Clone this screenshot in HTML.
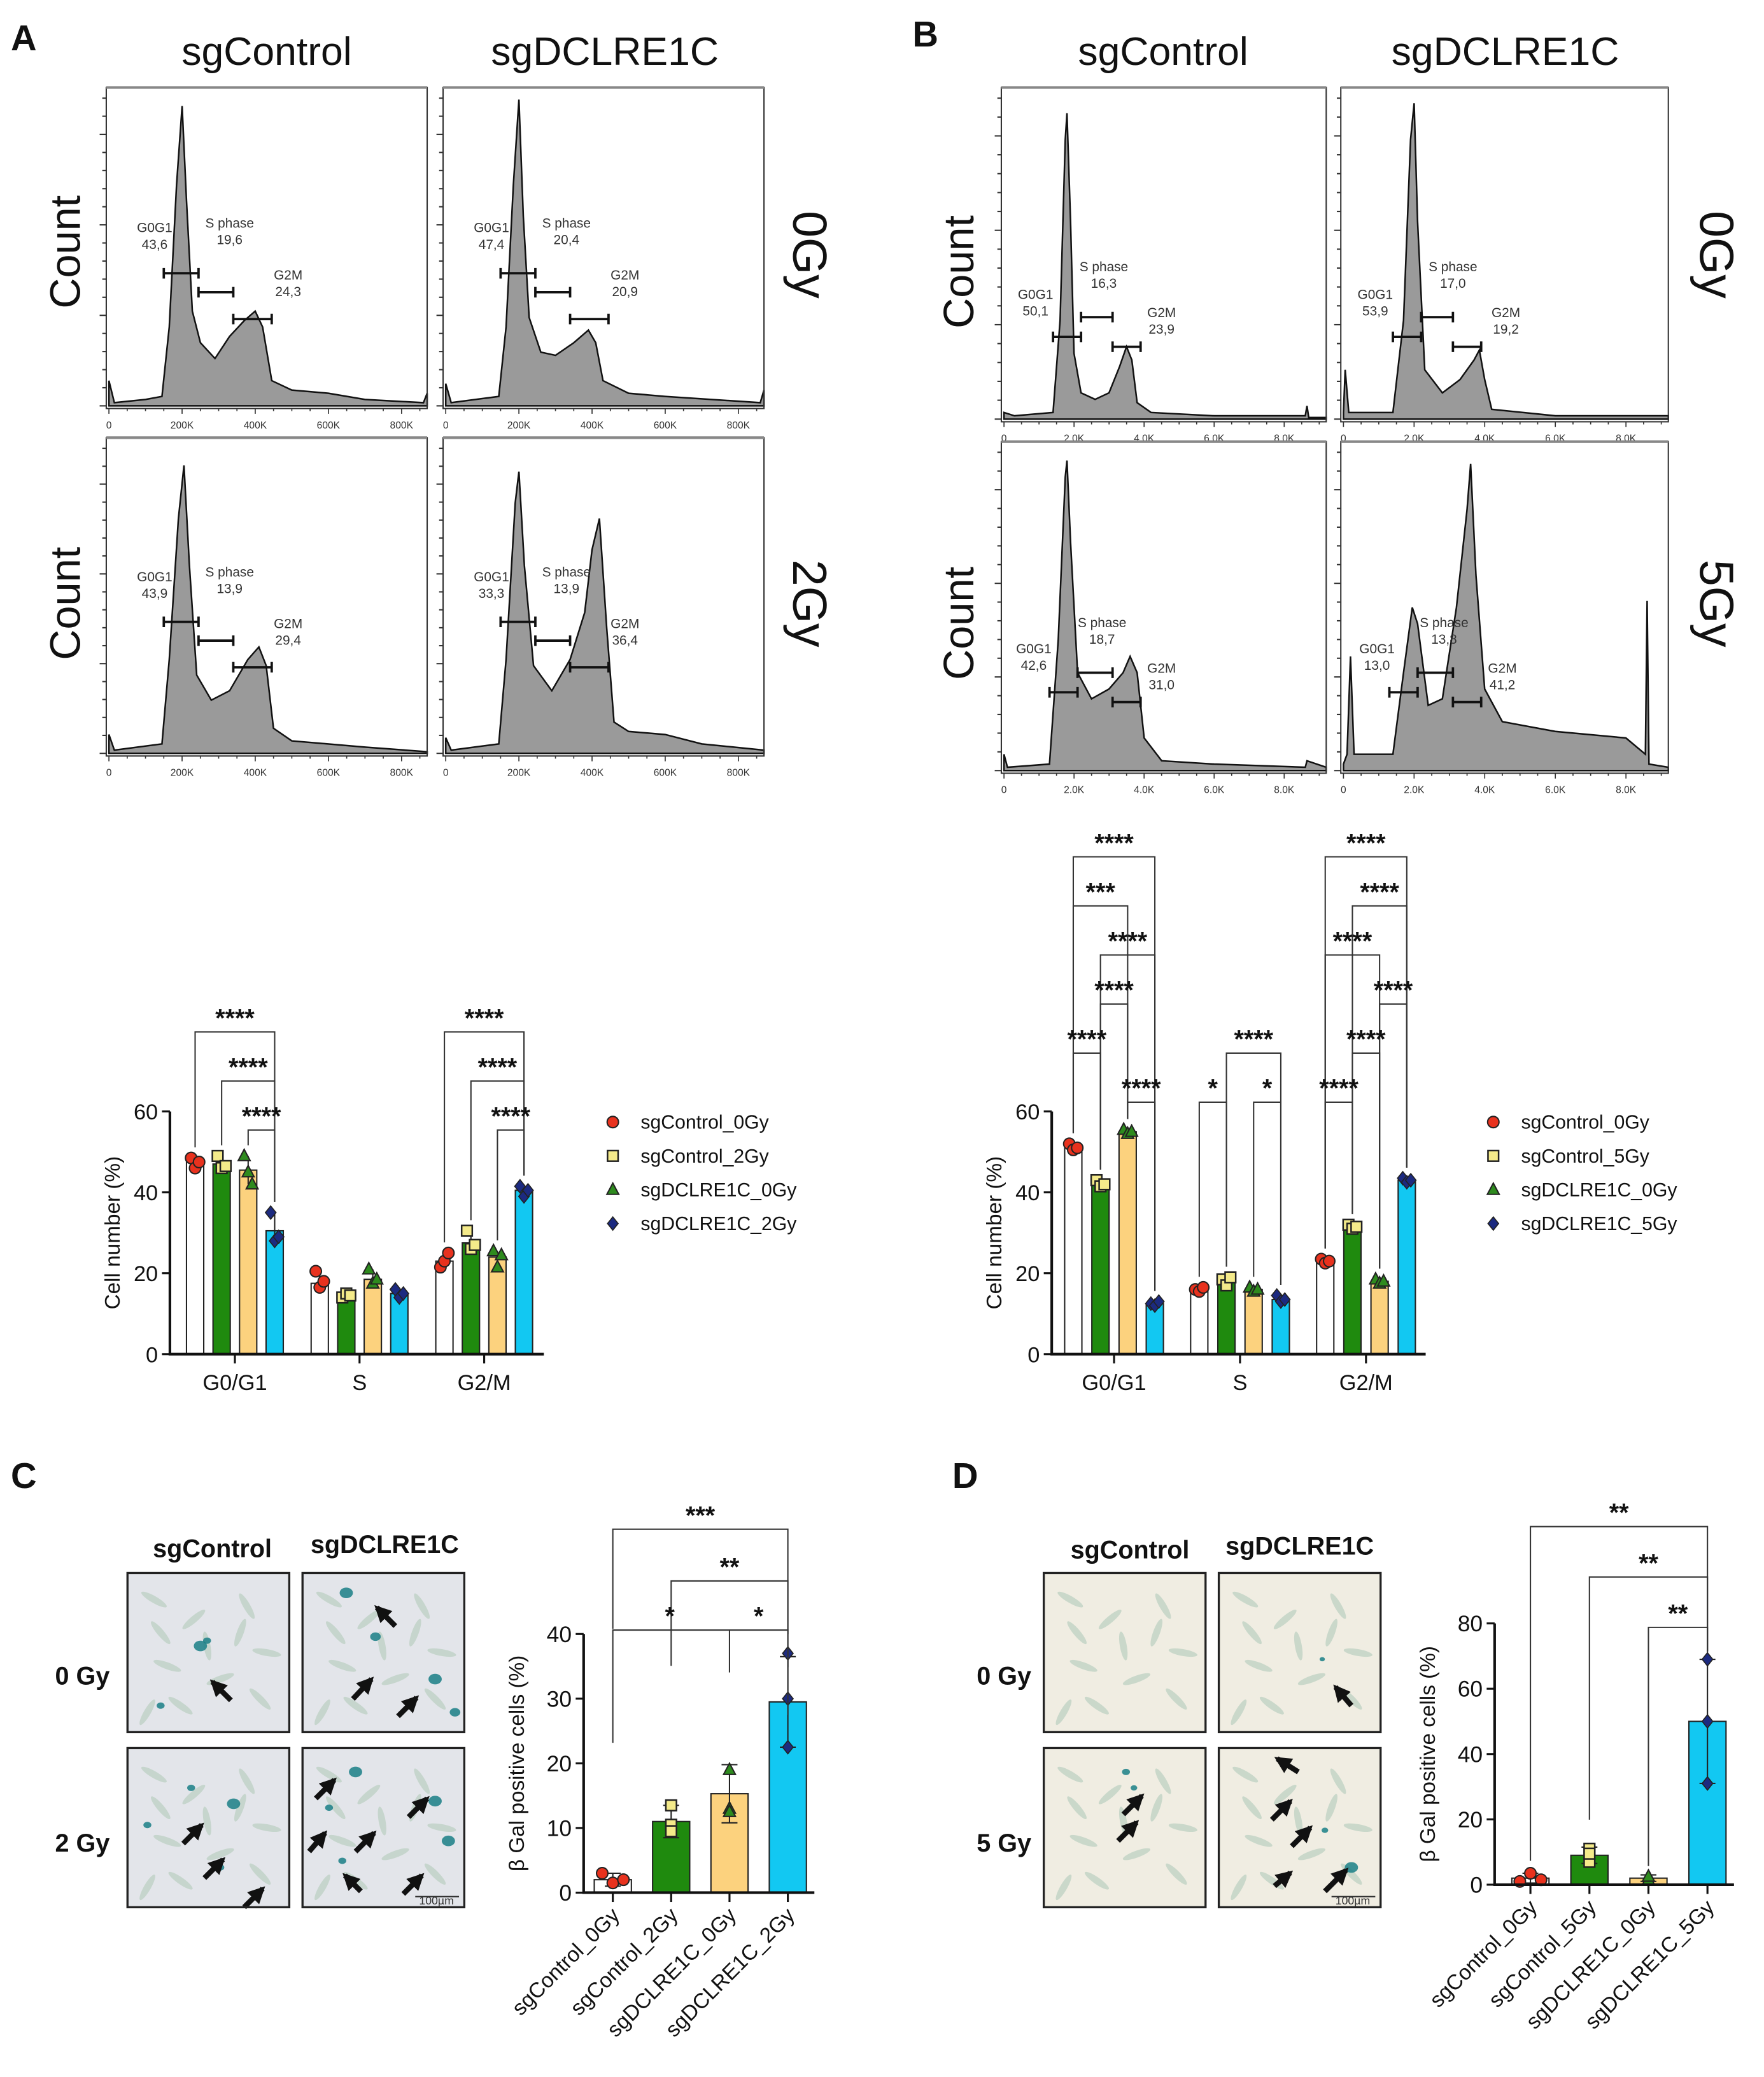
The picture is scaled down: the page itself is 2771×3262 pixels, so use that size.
<!DOCTYPE html>
<html><head><meta charset="utf-8"><style>
html,body{margin:0;padding:0;background:#fff}
svg{display:block}
text{font-family:"Liberation Sans",sans-serif}
</style></head><body>
<svg id="fig" xmlns="http://www.w3.org/2000/svg" width="2771" height="3262" viewBox="0 0 1330 1566">
<defs>
<marker id="ah" viewBox="0 0 10 10" refX="8" refY="5" markerWidth="3.2" markerHeight="3.2" orient="auto"><path d="M0,0L10,5L0,10z" fill="#111"/></marker>
</defs>
<rect width="1330" height="1566" fill="#fff"/>
</svg>
<script>
// ---------- DATA ----------
// Flow cytometry histograms (DNA content, relative count)
const histA_ctrl0 = [[0,0.08],[15,0.01],[100,0.02],[145,0.03],[165,0.25],[185,0.7],[200,0.95],[212,0.65],[228,0.3],[250,0.2],[290,0.15],[330,0.22],[370,0.27],[400,0.3],[420,0.25],[445,0.08],[500,0.05],[600,0.04],[700,0.02],[860,0.01],[870,0.04]];
const histA_dcl0 = [[0,0.07],[15,0.01],[145,0.03],[165,0.25],[185,0.7],[200,0.97],[212,0.6],[228,0.28],[260,0.17],[300,0.16],[350,0.2],[390,0.24],[410,0.2],[430,0.08],[500,0.04],[600,0.03],[860,0.01],[870,0.05]];
const histA_ctrl2 = [[0,0.06],[15,0.01],[145,0.03],[165,0.3],[190,0.75],[205,0.92],[220,0.6],[240,0.25],[280,0.17],[330,0.2],[380,0.3],[410,0.34],[430,0.28],[450,0.08],[500,0.04],[700,0.02],[870,0.005]];
const histA_dcl2 = [[0,0.05],[15,0.01],[145,0.03],[165,0.3],[190,0.8],[200,0.9],[215,0.6],[240,0.28],[290,0.2],[340,0.3],[380,0.45],[400,0.65],[420,0.75],[440,0.4],[460,0.1],[500,0.07],[600,0.06],[700,0.03],[870,0.01]];
const histB_ctrl0 = [[0,0.02],[0.3,0.01],[1.4,0.02],[1.6,0.3],[1.75,0.85],[1.8,0.93],[1.9,0.6],[2.0,0.2],[2.2,0.08],[2.6,0.06],[3.0,0.08],[3.3,0.16],[3.5,0.22],[3.65,0.18],[3.8,0.05],[4.2,0.02],[6,0.01],[8.6,0.01],[8.65,0.04],[8.7,0.005],[9.2,0.005]];
const histB_dcl0 = [[0,0.02],[0.05,0.15],[0.15,0.02],[1.4,0.02],[1.7,0.3],[1.9,0.85],[2.0,0.96],[2.1,0.6],[2.3,0.15],[2.8,0.08],[3.3,0.12],[3.7,0.18],[3.85,0.21],[4.0,0.12],[4.2,0.03],[6,0.01],[9.2,0.01]];
const histB_ctrl5 = [[0,0.05],[0.1,0.01],[1.3,0.02],[1.55,0.4],[1.75,0.9],[1.8,0.95],[1.9,0.7],[2.1,0.3],[2.5,0.22],[3.0,0.25],[3.4,0.3],[3.6,0.35],[3.8,0.3],[4.0,0.1],[4.5,0.03],[6,0.02],[8.6,0.01],[8.65,0.03],[9.2,0.01]];
const histB_dcl5 = [[0,0.02],[0.1,0.05],[0.2,0.35],[0.3,0.05],[1.4,0.05],[1.7,0.3],[1.95,0.5],[2.1,0.45],[2.4,0.2],[2.8,0.22],[3.2,0.5],[3.5,0.8],[3.6,0.94],[3.75,0.6],[4.0,0.25],[4.5,0.15],[6,0.12],[8,0.1],[8.55,0.05],[8.6,0.52],[8.65,0.02],[9.2,0.01]];

// Panel A bar chart (cell cycle %)
const phases = ["G0/G1","S","G2/M"];
const seriesA = ["sgControl_0Gy","sgControl_2Gy","sgDCLRE1C_0Gy","sgDCLRE1C_2Gy"];
const meansA_ctrl0 = [47.5,17.5,23];
const meansA_ctrl2 = [47,14.5,27.5];
const meansA_dcl0 = [45.5,18.5,24];
const meansA_dcl2 = [30.5,15,40.5];
const ptsA_ctrl0 = [[48.5,46,47.5],[20.5,16.5,18],[21.5,23,25]];
const ptsA_ctrl2 = [[49,46,46.5],[14,15,14.5],[30.5,26,27]];
const ptsA_dcl0 = [[49,45,42],[21,17.5,18.5],[25.5,21.5,24.5]];
const ptsA_dcl2 = [[35,28,29],[16,14,15],[41.5,39,40.5]];
const yTicksBar = [0,20,40,60];

// Panel B bar chart
const seriesB = ["sgControl_0Gy","sgControl_5Gy","sgDCLRE1C_0Gy","sgDCLRE1C_5Gy"];
const meansB_ctrl0 = [51,16,23];
const meansB_ctrl5 = [42,18,31.5];
const meansB_dcl0 = [55,16,18];
const meansB_dcl5 = [12.5,13.5,43];
const ptsB_ctrl0 = [[52,50.5,51],[16,15.5,16.5],[23.5,22.5,23]];
const ptsB_ctrl5 = [[43,41.5,42],[18.5,17,19],[32,31,31.5]];
const ptsB_dcl0 = [[55.5,54.5,55],[16.5,15.5,16],[18.5,17.5,18]];
const ptsB_dcl5 = [[12.5,12,13],[14.5,13,13.5],[43.5,42.5,43]];

// Panel C (beta-gal %)
const groupsC = ["sgControl_0Gy","sgControl_2Gy","sgDCLRE1C_0Gy","sgDCLRE1C_2Gy"];
const meansC = [2,11,15.3,29.5];
const sdC = [1,2.5,4.5,7];
const ptsC = [[3,1.5,2],[13.5,10.5,9.5],[19,13,12.5],[37,30,22.5]];
const yTicksC = [0,10,20,30,40];

// Panel D
const groupsD = ["sgControl_0Gy","sgControl_5Gy","sgDCLRE1C_0Gy","sgDCLRE1C_5Gy"];
const meansD = [2,9,2,50];
const sdD = [1.5,2.5,1,19];
const ptsD = [[1,3.5,1.5],[11,7,9.5],[2.5,1.5,2.5],[69,50,31]];
const yTicksD = [0,20,40,60,80];

// ---------- HELPERS ----------
const NS='http://www.w3.org/2000/svg';
const svg=document.getElementById('fig');
function mk(tag,a,p){const e=document.createElementNS(NS,tag);for(const k in a)e.setAttribute(k,a[k]);(p||svg).appendChild(e);return e;}
function tx(x,y,s,size,extra,p){const a=Object.assign({x:x,y:y,'font-size':size,fill:'#111'},extra||{});const e=mk('text',a,p);e.textContent=s;return e;}

const BARCOL=['#ffffff','#1f8a0e','#fcd27e','#12c8f2'];
const PTCOL=['#e8321e','#f4ea8a','#2e8b1e','#1c2a80'];
function marker(kind,x,y,p){
  let e;
  if(kind===0) e=mk('circle',{cx:x,cy:y,r:4.3,fill:PTCOL[0],stroke:'#222','stroke-width':1},p);
  else if(kind===1) e=mk('rect',{x:x-4,y:y-4,width:8,height:8,fill:PTCOL[1],stroke:'#222','stroke-width':1.2},p);
  else if(kind===2) e=mk('path',{d:`M${x},${y-5}L${x+4.5},${y+3.5}L${x-4.5},${y+3.5}Z`,fill:PTCOL[2],stroke:'#222','stroke-width':1},p);
  else e=mk('path',{d:`M${x},${y-5}L${x+4},${y}L${x},${y+5}L${x-4},${y}Z`,fill:PTCOL[3],stroke:'#222','stroke-width':0.8},p);
  return e;
}

// ---------- HISTOGRAMS ----------
function histogram(name,box,xmax,tickVals,tickLabs,data,gates){
  const g=mk('g',{});
  
  
  const x0=box[0],y0=box[1],x1=box[2],y1=box[3];
  const X=v=>x0+2+v/xmax*(x1-x0-2);
  const Y=f=>y1-2-f*(y1-y0-4);
  let d=`M${X(data[0][0])},${Y(0)}`;
  data.forEach(p=>{d+=`L${X(p[0]).toFixed(1)},${Y(p[1]).toFixed(1)}`;});
  d+=`L${X(data[data.length-1][0])},${Y(0)}Z`;
  const area=mk('path',{d:d,fill:'#9a9a9a',stroke:'#111','stroke-width':1.2},g);
  
  
  const frame=mk('rect',{x:x0,y:y0,width:x1-x0,height:y1-y0,fill:'none',stroke:'#333','stroke-width':1},g);
  
  
  mk('line',{x1:x0,y1:y0,x2:x1,y2:y0,stroke:'#888','stroke-width':2},g);
  // y minor ticks
  for(let i=0;i<=17;i++){const yy=y1-2-i*(y1-y0-10)/17;mk('line',{x1:x0-(i%5===0?5:3),y1:yy,x2:x0,y2:yy,stroke:'#333','stroke-width':1},g);}
  // x ticks
  for(let i=0;i<=Math.floor(xmax/(tickVals[1]/4));i++){const v=i*tickVals[1]/4;const xx=X(v);mk('line',{x1:xx,y1:y1,x2:xx,y2:y1+(i%4===0?4:2),stroke:'#333','stroke-width':0.8},g);}
  tickVals.forEach((v,i)=>{const t=tx(X(v),y1+15,tickLabs[i],7.5,{'text-anchor':'middle',fill:'#333'},g);
    
    });
  gates.forEach(gt=>{
    const yy=Y(gt[2]);
    const ln=mk('path',{d:`M${X(gt[0])},${yy-4}V${yy+4}M${X(gt[0])},${yy}H${X(gt[1])}M${X(gt[1])},${yy-4}V${yy+4}`,stroke:'#111','stroke-width':1.8,fill:'none'},g);
    
    
    const l1=tx(X(gt[5]),Y(gt[6]),gt[3],10,{'text-anchor':'middle',fill:'#333'},g);
    
    
    const l2=tx(X(gt[5]),Y(gt[6])+12.5,gt[4],10,{'text-anchor':'middle',fill:'#333'},g);
    
    
  });
}
const aT=[0,200,400,600,800], aL=['0','200K','400K','600K','800K'];
const bT=[0,2,4,6,8], bL=['0','2.0K','4.0K','6.0K','8.0K'];
// gate: [from,to,yFrac,label,value,labelX,labelYFrac]
histogram('hist-a-sgcontrol-0gy',[80,66,322,308],870,aT,aL,histA_ctrl0,[[150,245,0.42,'G0G1','43,6',125,0.55],[245,340,0.36,'S phase','19,6',330,0.565],[340,445,0.275,'G2M','24,3',490,0.4]]);
histogram('hist-a-sgdclre1c-0gy',[334,66,576,308],870,aT,aL,histA_dcl0,[[150,245,0.42,'G0G1','47,4',125,0.55],[245,340,0.36,'S phase','20,4',330,0.565],[340,445,0.275,'G2M','20,9',490,0.4]]);
histogram('hist-a-sgcontrol-2gy',[80,330,322,570],870,aT,aL,histA_ctrl2,[[150,245,0.42,'G0G1','43,9',125,0.55],[245,340,0.36,'S phase','13,9',330,0.565],[340,445,0.275,'G2M','29,4',490,0.4]]);
histogram('hist-a-sgdclre1c-2gy',[334,330,576,570],870,aT,aL,histA_dcl2,[[150,245,0.42,'G0G1','33,3',125,0.55],[245,340,0.36,'S phase','13,9',330,0.565],[340,445,0.275,'G2M','36,4',490,0.4]]);
histogram('hist-b-sgcontrol-0gy',[755,66,1000,318],9.2,bT,bL,histB_ctrl0,[[1.4,2.2,0.25,'G0G1','50,1',0.9,0.365],[2.2,3.1,0.31,'S phase','16,3',2.85,0.45],[3.1,3.9,0.22,'G2M','23,9',4.5,0.31]]);
histogram('hist-b-sgdclre1c-0gy',[1011,66,1258,318],9.2,bT,bL,histB_dcl0,[[1.4,2.2,0.25,'G0G1','53,9',0.9,0.365],[2.2,3.1,0.31,'S phase','17,0',3.1,0.45],[3.1,3.9,0.22,'G2M','19,2',4.6,0.31]]);
histogram('hist-b-sgcontrol-5gy',[755,333,1000,583],9.2,bT,bL,histB_ctrl5,[[1.3,2.1,0.24,'G0G1','42,6',0.85,0.36],[2.1,3.1,0.3,'S phase','18,7',2.8,0.44],[3.1,3.9,0.21,'G2M','31,0',4.5,0.3]]);
histogram('hist-b-sgdclre1c-5gy',[1011,333,1258,583],9.2,bT,bL,histB_dcl5,[[1.3,2.1,0.24,'G0G1','13,0',0.95,0.36],[2.1,3.1,0.3,'S phase','13,8',2.85,0.44],[3.1,3.9,0.21,'G2M','41,2',4.5,0.3]]);

// headings
function lab(x,y,s,size,name,extra){const t=tx(x,y,s,size,extra);return t;}
lab(8,38,'A',27,'panel-a-label',{'font-weight':'bold'});
lab(688,35,'B',27,'panel-b-label',{'font-weight':'bold'});
lab(8,1122,'C',27,'panel-c-label',{'font-weight':'bold'});
lab(718,1122,'D',27,'panel-d-label',{'font-weight':'bold'});
lab(201,49,'sgControl',30,'col-title-sgcontrol-a',{'text-anchor':'middle'});
lab(456,49,'sgDCLRE1C',30,'col-title-sgdclre1c-a',{'text-anchor':'middle'});
lab(877,49,'sgControl',30,'col-title-sgcontrol-b',{'text-anchor':'middle'});
lab(1135,49,'sgDCLRE1C',30,'col-title-sgdclre1c-b',{'text-anchor':'middle'});
[[60,190],[60,455],[734,205],[734,470]].forEach(p=>{lab(0,0,'Count',32,'y-axis-title-count',{'text-anchor':'middle',transform:`translate(${p[0]},${p[1]}) rotate(-90)`});});
[[598,192,'0Gy'],[598,455,'2Gy'],[1282,192,'0Gy'],[1282,455,'5Gy']].forEach(p=>{lab(0,0,p[2],36,'dose-label',{'text-anchor':'middle',transform:`translate(${p[0]},${p[1]}) rotate(90)`});});

// ---------- GROUPED BAR CHARTS ----------
function barChart(name,ax,means,pts,series,legendX){
  const g=mk('g',{});
  
  
  const Y=v=>ax.y0-v*(ax.y0-ax.y60)/60;
  const bx=(c,s)=>ax.c0+c*ax.cstep+(s-1.5)*ax.bstep;
  for(let c=0;c<3;c++){
    for(let s=0;s<4;s++){
      const xc=bx(c,s), v=means[s][c];
      const r=mk('rect',{x:xc-6.5,y:Y(v),width:13,height:Y(0)-Y(v),fill:BARCOL[s],stroke:'#222','stroke-width':1},g);
      
      
      const ps=pts[s][c];
      const mn=Math.min(...ps), mx=Math.max(...ps);
      mk('line',{x1:xc,y1:Y(mn),x2:xc,y2:Y(mx),stroke:'#222','stroke-width':1},g);
      ps.forEach((pv,i)=>{const m=marker(s,xc+(i-1)*3,Y(pv),g);
        
        });
    }
    const tk=mk('line',{x1:ax.c0+c*ax.cstep,y1:Y(0),x2:ax.c0+c*ax.cstep,y2:Y(0)+7,stroke:'#111','stroke-width':1.5},g);
    const t=tx(ax.c0+c*ax.cstep,Y(0)+27,phases[c],16.5,{'text-anchor':'middle'},g);
    
    
  }
  const axl=mk('path',{d:`M${ax.yx},${Y(60)}V${Y(0)}H${ax.xend}`,stroke:'#111','stroke-width':2,fill:'none'},g);
  
  
  yTicksBar.forEach(v=>{mk('line',{x1:ax.yx-6,y1:Y(v),x2:ax.yx,y2:Y(v),stroke:'#111','stroke-width':1.5},g);
    const t=tx(ax.yx-9,Y(v)+6,String(v),16.5,{'text-anchor':'end'},g);
    
    });
  const yt=tx(0,0,'Cell number (%)',16,{'text-anchor':'middle',transform:`translate(${ax.yx-38},${Y(30)}) rotate(-90)`},g);
  
  
  series.forEach((s,i)=>{const yy=850+i*25.5;
    const m=marker(i,legendX,yy-4,g);
    
    
    const t=tx(legendX+21,yy+1,s,14.5,{},g);
    
    });
  return {Y:Y,bx:bx,g:g};
}
function bracket(g,xa,xb,yTop,yA,yB,stars,size,tx0){
  const p=mk('path',{d:`M${xa},${yA}V${yTop}H${xb}V${yB}`,stroke:'#333','stroke-width':1,fill:'none'},g);
  
  
  const t=tx(tx0!==undefined?tx0:(xa+xb)/2,yTop-4,stars,size||19,{'text-anchor':'middle','font-weight':'bold'},g);
  
  
}
const A=barChart('bar-chart-a',{y0:1021,y60:838,yx:128,xend:410,c0:177,cstep:94,bstep:20},[meansA_ctrl0,meansA_ctrl2,meansA_dcl0,meansA_dcl2],[ptsA_ctrl0,ptsA_ctrl2,ptsA_dcl0,ptsA_dcl2],seriesA,462);
const B=barChart('bar-chart-b',{y0:1021,y60:838,yx:793,xend:1075,c0:840,cstep:95,bstep:20.5},[meansB_ctrl0,meansB_ctrl5,meansB_dcl0,meansB_dcl5],[ptsB_ctrl0,ptsB_ctrl5,ptsB_dcl0,ptsB_dcl5],seriesB,1126);

// brackets A  [cat, s1, s2, level]
const sigA=[[0,0,3,0],[0,1,3,1],[0,2,3,2],[2,0,3,0],[2,1,3,1],[2,2,3,2]];
sigA.forEach(b=>{const yTop=778+b[3]*37;const xa=A.bx(b[0],b[1]),xb=A.bx(b[0],b[2]);
  bracket(A.g,xa,xb,yTop,A.Y(Math.max(...[ptsA_ctrl0,ptsA_ctrl2,ptsA_dcl0,ptsA_dcl2][b[1]][b[0]]))-8,A.Y(Math.max(...[ptsA_ctrl0,ptsA_ctrl2,ptsA_dcl0,ptsA_dcl2][b[2]][b[0]]))-8,'****');});
// brackets B
const sigB=[[0,0,3,0,'****'],[0,0,2,1,'***'],[0,1,3,2,'****'],[0,1,2,3,'****'],[0,0,1,4,'****'],[0,2,3,5,'****'],
 [1,1,3,4,'****'],[1,0,1,5,'*'],[1,2,3,5,'*'],
 [2,0,3,0,'****'],[2,1,3,1,'****'],[2,0,2,2,'****'],[2,2,3,3,'****'],[2,1,2,4,'****'],[2,0,1,5,'****']];
const ptsBall=[ptsB_ctrl0,ptsB_ctrl5,ptsB_dcl0,ptsB_dcl5];
sigB.forEach(b=>{const yTop=630+b[3]*37+16;const xa=B.bx(b[0],b[1]),xb=B.bx(b[0],b[2]);
  bracket(B.g,xa,xb,yTop,B.Y(Math.max(...ptsBall[b[1]][b[0]]))-8,B.Y(Math.max(...ptsBall[b[2]][b[0]]))-8,b[4]);});

// ---------- MICROGRAPHS ----------
function micrograph(name,x,y,bg,blobs,arrows,scale){
  const g=mk('g',{});
  
  
  mk('rect',{x:x,y:y,width:122,height:120,fill:bg},g);
  // faint cells
  const cells=[[20,20,30],[50,35,-40],[90,25,60],[30,70,20],[70,80,-20],[100,95,45],[15,105,-60],[60,55,80],[105,60,10],[40,100,35],[85,45,-70],[25,45,50]];
  cells.forEach(c=>mk('ellipse',{cx:x+c[0],cy:y+c[1],rx:11,ry:2.6,fill:'#b9cfc0',opacity:0.7,transform:`rotate(${c[2]} ${x+c[0]} ${y+c[1]})`},g));
  blobs.forEach(b=>mk('ellipse',{cx:x+b[0],cy:y+b[1],rx:b[2],ry:b[2]*0.8,fill:'#1a7f86',opacity:0.85},g));
  arrows.forEach(a=>mk('line',{x1:x+a[0],y1:y+a[1],x2:x+a[2],y2:y+a[3],stroke:'#111','stroke-width':4,'marker-end':'url(#ah)'},g));
  mk('rect',{x:x,y:y,width:122,height:120,fill:'none',stroke:'#222','stroke-width':1.6},g);
  if(scale){mk('line',{x1:x+85,y1:y+112,x2:x+118,y2:y+112,stroke:'#333','stroke-width':1},g);
    const t=tx(x+101,y+118,'100µm',8.5,{'text-anchor':'middle',fill:'#333'},g);
    
    }
}
micrograph('micrograph-c-sgcontrol-0gy',96,1186,'#e3e5ea',[[55,55,5],[60,51,3],[25,100,3]],[[78,96,64,82]],false);
micrograph('micrograph-c-sgdclre1c-0gy',228,1186,'#e3e5ea',[[33,15,5],[100,80,5],[115,105,4],[55,48,4]],[[70,40,56,26],[38,95,52,80],[72,108,86,94]],false);
micrograph('micrograph-c-sgcontrol-2gy',96,1318,'#e3e5ea',[[48,30,3],[80,42,5],[15,58,3],[70,90,3]],[[42,72,56,58],[58,98,72,84],[88,120,102,106]],false);
micrograph('micrograph-c-sgdclre1c-2gy',228,1318,'#e3e5ea',[[40,18,5],[100,40,5],[110,70,5],[30,85,3],[20,45,3]],[[5,78,17,64],[44,108,32,96],[40,78,54,64],[80,52,94,38],[76,110,90,96],[10,38,24,24]],true);
micrograph('micrograph-d-sgcontrol-0gy',787,1186,'#f0ede2',[],[],false);
micrograph('micrograph-d-sgdclre1c-0gy',919,1186,'#f0ede2',[[78,65,2]],[[100,100,88,86]],false);
micrograph('micrograph-d-sgcontrol-5gy',787,1318,'#f0ede2',[[62,18,3],[68,30,2.5]],[[60,50,74,36],[56,70,70,56]],false);
micrograph('micrograph-d-sgdclre1c-5gy',919,1318,'#f0ede2',[[100,90,5],[80,62,2.5]],[[60,18,44,8],[40,54,54,40],[55,74,69,60],[42,104,54,94],[80,108,96,92]],true);
lab(160,1174,'sgControl',19,'col-title-sgcontrol-c',{'text-anchor':'middle','font-weight':'bold'});
lab(290,1171,'sgDCLRE1C',19,'col-title-sgdclre1c-c',{'text-anchor':'middle','font-weight':'bold'});
lab(852,1175,'sgControl',19,'col-title-sgcontrol-d',{'text-anchor':'middle','font-weight':'bold'});
lab(980,1172,'sgDCLRE1C',19,'col-title-sgdclre1c-d',{'text-anchor':'middle','font-weight':'bold'});
lab(62,1270,'0 Gy',19,'row-label-0gy-c',{'text-anchor':'middle','font-weight':'bold'});
lab(62,1396,'2 Gy',19,'row-label-2gy-c',{'text-anchor':'middle','font-weight':'bold'});
lab(757,1270,'0 Gy',19,'row-label-0gy-d',{'text-anchor':'middle','font-weight':'bold'});
lab(757,1396,'5 Gy',19,'row-label-5gy-d',{'text-anchor':'middle','font-weight':'bold'});

// ---------- SIMPLE BAR CHARTS C/D ----------
function simpleBar(name,ax,groups,means,sd,pts,ticks,ymax,sigs){
  const g=mk('g',{});
  
  
  const Y=v=>ax.y0-v*(ax.y0-ax.ytop)/ymax;
  const X=i=>ax.c0+i*ax.step;
  groups.forEach((gr,i)=>{
    const r=mk('rect',{x:X(i)-14,y:Y(means[i]),width:28,height:Y(0)-Y(means[i]),fill:BARCOL[i],stroke:'#222','stroke-width':1},g);
    
    
    mk('path',{d:`M${X(i)},${Y(means[i]+sd[i])}V${Y(Math.max(0,means[i]-sd[i]))}M${X(i)-6},${Y(means[i]+sd[i])}H${X(i)+6}M${X(i)-6},${Y(Math.max(0,means[i]-sd[i]))}H${X(i)+6}`,stroke:'#222','stroke-width':1,fill:'none'},g);
    pts[i].forEach((pv,k)=>{const m=marker(i,X(i)+(k-1)*(i===0?8:0),Y(pv),g);
      
      });
    mk('line',{x1:X(i),y1:Y(0),x2:X(i),y2:Y(0)+7,stroke:'#111','stroke-width':1.5},g);
    const t=tx(0,0,gr,16,{'text-anchor':'end',transform:`translate(${X(i)+6},${Y(0)+18}) rotate(-45)`},g);
    
    
  });
  const axl=mk('path',{d:`M${ax.yx},${Y(ymax)}V${Y(0)}H${X(3)+20}`,stroke:'#111','stroke-width':2,fill:'none'},g);
  
  
  ticks.forEach(v=>{mk('line',{x1:ax.yx-6,y1:Y(v),x2:ax.yx,y2:Y(v),stroke:'#111','stroke-width':1.5},g);
    const t=tx(ax.yx-9,Y(v)+6,String(v),17,{'text-anchor':'end'},g);
    
    });
  const yt=tx(0,0,'β Gal positive cells (%)',16,{'text-anchor':'middle',transform:`translate(${ax.yx-45},${Y(ymax/2)}) rotate(-90)`},g);
  
  
  sigs.forEach(s=>{bracket(g,X(s[0]),X(s[1]),s[2],s[2]+s[4],s[2]+s[5],s[3],19,s[6]);});
}
simpleBar('bar-chart-c',{y0:1427,ytop:1232,yx:440,c0:462,step:44},groupsC,meansC,sdC,ptsC,yTicksC,40,
 [[0,3,1153,'***',75,140],[1,3,1192,'**',64,40],[0,2,1229,'*',85,32,505],[2,3,1229,'*',0,28,572]]);
simpleBar('bar-chart-d',{y0:1421,ytop:1224,yx:1127,c0:1154,step:44.5},groupsD,meansD,sdD,ptsD,yTicksD,80,
 [[0,3,1151,'**',252,94],[1,3,1189,'**',183,56],[2,3,1227,'**',180,19]]);
</script>
</body></html>
